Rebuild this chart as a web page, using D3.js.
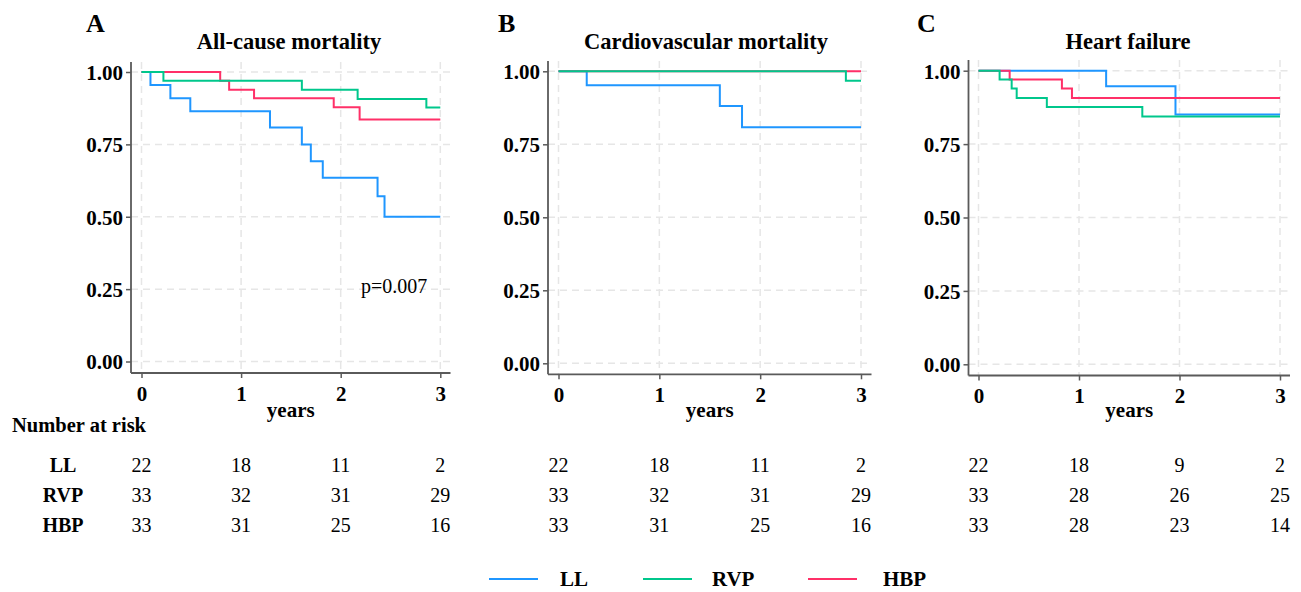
<!DOCTYPE html>
<html>
<head>
<meta charset="utf-8">
<script src="https://cdn.jsdelivr.net/npm/d3@7"></script>
<style>
  html, body { margin: 0; padding: 0; background: #fff; }
  svg { display: block; font-family: "Liberation Serif", "Times New Roman", serif; }
</style>
</head>
<body>
<div id="chart"></div>
<script>
// ---------------- DATA ----------------
const groups = ["LL", "RVP", "HBP"];
const groupColors = ["#1f96ff", "#00c78c", "#ff3068"];
const drawOrder = [0, 2, 1]; // LL below, then HBP, RVP on top
const panelLetters = ["A", "B", "C"];
const panelTitles = ["All-cause mortality", "Cardiovascular mortality", "Heart failure"];
const xTicks = [0, 1, 2, 3];
const yTicks = [0, 0.25, 0.5, 0.75, 1];
const yTickLabels = ["0.00", "0.25", "0.50", "0.75", "1.00"];
const xLabel = "years";
const riskTitle = "Number at risk";
const pValueA = "p=0.007";

// Panel A: all-cause mortality (step times, survival)
const allLL_t  = [0, 0.09, 0.29, 0.49, 1.29, 1.61, 1.70, 1.82, 2.37, 2.44, 3.0];
const allLL_s  = [1, 0.955, 0.909, 0.864, 0.808, 0.750, 0.692, 0.635, 0.571, 0.500, 0.500];
const allRVP_t = [0, 0.22, 1.61, 2.17, 2.86, 3.0];
const allRVP_s = [1, 0.970, 0.939, 0.907, 0.877, 0.877];
const allHBP_t = [0, 0.79, 0.88, 1.13, 1.93, 2.19, 3.0];
const allHBP_s = [1, 0.970, 0.939, 0.909, 0.878, 0.836, 0.836];

// Panel B: cardiovascular mortality
const cvLL_t  = [0, 0.28, 1.60, 1.82, 3.0];
const cvLL_s  = [1, 0.952, 0.881, 0.808, 0.808];
const cvRVP_t = [0, 2.85, 3.0];
const cvRVP_s = [1, 0.968, 0.968];
const cvHBP_t = [0, 3.0];
const cvHBP_s = [1, 1];

// Panel C: heart failure
const hfLL_t  = [0, 1.27, 1.96, 3.0];
const hfLL_s  = [1, 0.947, 0.851, 0.851];
const hfRVP_t = [0, 0.21, 0.33, 0.38, 0.68, 1.63, 3.0];
const hfRVP_s = [1, 0.970, 0.939, 0.907, 0.876, 0.844, 0.844];
const hfHBP_t = [0, 0.31, 0.83, 0.93, 3.0];
const hfHBP_s = [1, 0.970, 0.939, 0.907, 0.907];

// Number at risk
const riskA_LL = [22, 18, 11, 2];
const riskA_RVP = [33, 32, 31, 29];
const riskA_HBP = [33, 31, 25, 16];
const riskB_LL = [22, 18, 11, 2];
const riskB_RVP = [33, 32, 31, 29];
const riskB_HBP = [33, 31, 25, 16];
const riskC_LL = [22, 18, 9, 2];
const riskC_RVP = [33, 28, 26, 25];
const riskC_HBP = [33, 28, 23, 14];

const panelCurves = [
  [[allLL_t, allLL_s], [allRVP_t, allRVP_s], [allHBP_t, allHBP_s]],
  [[cvLL_t, cvLL_s], [cvRVP_t, cvRVP_s], [cvHBP_t, cvHBP_s]],
  [[hfLL_t, hfLL_s], [hfRVP_t, hfRVP_s], [hfHBP_t, hfHBP_s]]
];
const panelRisk = [
  [riskA_LL, riskA_RVP, riskA_HBP],
  [riskB_LL, riskB_RVP, riskB_HBP],
  [riskC_LL, riskC_RVP, riskC_HBP]
];

// ---------------- LAYOUT ----------------
const W = 1301, H = 592;
const layouts = [
  { axisX: 131,   x0: 141.5, x3: 440.3, xEnd: 450.5, y1: 72,   y0: 361.5, top: 62, bottom: 373,   letterX: 86,  titleX: 289 },
  { axisX: 548,   x0: 558.5, x3: 861,   xEnd: 871.5, y1: 71.3, y0: 363.3, top: 61, bottom: 374.3, letterX: 498, titleX: 706 },
  { axisX: 968.5, x0: 978.5, x3: 1280,  xEnd: 1290,  y1: 70.7, y0: 364.3, top: 60, bottom: 375.5, letterX: 917, titleX: 1128 }
];
const rowY = [472, 502, 532];
const axisColor = "#5a5a5a";
const gridColor = "#e6e6e6";

const svg = d3.select("#chart").append("svg")
  .attr("width", W).attr("height", H);

layouts.forEach((L, pi) => {
  const x = d3.scaleLinear().domain([0, 3]).range([L.x0, L.x3]);
  const y = d3.scaleLinear().domain([0, 1]).range([L.y0, L.y1]);
  const g = svg.append("g");

  // grid
  g.selectAll(".hgrid").data(yTicks).enter().append("line")
    .attr("x1", L.axisX).attr("x2", L.xEnd)
    .attr("y1", d => y(d)).attr("y2", d => y(d))
    .attr("stroke", gridColor).attr("stroke-width", 1.5).attr("stroke-dasharray", "7,5");
  g.selectAll(".vgrid").data(xTicks).enter().append("line")
    .attr("x1", d => x(d)).attr("x2", d => x(d))
    .attr("y1", L.top).attr("y2", L.bottom)
    .attr("stroke", gridColor).attr("stroke-width", 1.5).attr("stroke-dasharray", "7,5");

  // curves
  const line = d3.line().x(d => x(d[0])).y(d => y(d[1])).curve(d3.curveStepAfter);
  drawOrder.forEach(gi => {
    const c = panelCurves[pi][gi];
    const pts = c[0].map((t, i) => [t, c[1][i]]);
    g.append("path").datum(pts).attr("d", line)
      .attr("fill", "none").attr("stroke", groupColors[gi]).attr("stroke-width", 2);
  });

  // y axis
  const yAxis = d3.axisLeft(y).tickValues(yTicks).tickFormat((d, i) => yTickLabels[i])
    .tickSize(5).tickPadding(3).tickSizeOuter(0);
  const ya = g.append("g").attr("transform", `translate(${L.axisX},0)`).call(yAxis);
  ya.select(".domain").remove();
  ya.selectAll("line").attr("stroke", axisColor).attr("stroke-width", 1.5);
  ya.selectAll("text").attr("fill", "#000").style("font-size", "21px").style("font-weight", "bold")
    .style("font-family", "'Liberation Serif', 'Times New Roman', serif").attr("dy", "0.35em");
  g.append("line").attr("x1", L.axisX).attr("x2", L.axisX).attr("y1", L.top).attr("y2", L.bottom)
    .attr("stroke", axisColor).attr("stroke-width", 1.8);

  // x axis
  const xAxis = d3.axisBottom(x).tickValues(xTicks).tickFormat(d3.format("d"))
    .tickSize(5).tickPadding(8).tickSizeOuter(0);
  const xa = g.append("g").attr("transform", `translate(0,${L.bottom})`).call(xAxis);
  xa.select(".domain").remove();
  xa.selectAll("line").attr("stroke", axisColor).attr("stroke-width", 1.5);
  xa.selectAll("text").attr("fill", "#000").style("font-size", "21px").style("font-weight", "bold")
    .style("font-family", "'Liberation Serif', 'Times New Roman', serif");
  g.append("line").attr("x1", L.axisX).attr("x2", L.xEnd).attr("y1", L.bottom).attr("y2", L.bottom)
    .attr("stroke", axisColor).attr("stroke-width", 1.8);

  // axis title
  g.append("text").attr("x", (L.axisX + L.xEnd) / 2).attr("y", 417)
    .attr("text-anchor", "middle").style("font-size", "21px").style("font-weight", "bold").text(xLabel);

  // panel letter & title
  g.append("text").attr("x", L.letterX).attr("y", 32)
    .style("font-size", "26px").style("font-weight", "bold").text(panelLetters[pi]);
  g.append("text").attr("x", L.titleX).attr("y", 49).attr("text-anchor", "middle")
    .style("font-size", "22.5px").style("font-weight", "bold").text(panelTitles[pi]);

  // risk table
  panelRisk[pi].forEach((row, gi) => {
    g.selectAll(".risk" + gi).data(row).enter().append("text")
      .attr("x", (d, i) => x(xTicks[i])).attr("y", rowY[gi])
      .attr("text-anchor", "middle").style("font-size", "20px").text(d => d);
  });

  if (pi === 0) {
    g.append("text").attr("x", 361).attr("y", 293).style("font-size", "20px").text(pValueA);
    g.append("text").attr("x", 12).attr("y", 432).style("font-size", "20.5px").style("font-weight", "bold").text(riskTitle);
    groups.forEach((name, gi) => {
      g.append("text").attr("x", 63).attr("y", rowY[gi]).attr("text-anchor", "middle")
        .style("font-size", "20px").style("font-weight", "bold").text(name);
    });
  }
});

// legend
const legendLineX = [489, 643, 808];
const legendTextX = [560, 712, 883];
const leg = svg.append("g");
groups.forEach((name, gi) => {
  leg.append("line").attr("x1", legendLineX[gi]).attr("x2", legendLineX[gi] + 49)
    .attr("y1", 579).attr("y2", 579).attr("stroke", groupColors[gi]).attr("stroke-width", 2);
  leg.append("text").attr("x", legendTextX[gi]).attr("y", 586)
    .style("font-size", "21px").style("font-weight", "bold").text(name);
});
</script>
</body>
</html>
